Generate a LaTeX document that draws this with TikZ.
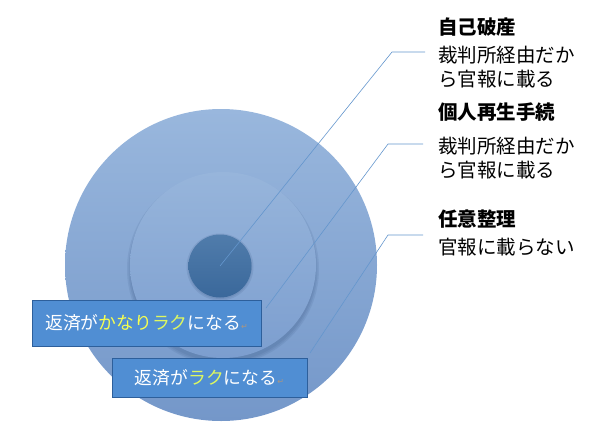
\documentclass[tikz,border=0pt]{standalone}
\usepackage{fontspec}
\newfontfamily\jp{Noto Sans CJK JP}
\newfontfamily\symf{DejaVu Sans}
\usetikzlibrary{positioning}

\definecolor{ringtop}{RGB}{153,183,221}
\definecolor{ringbot}{RGB}{116,151,201}
\definecolor{midtop}{RGB}{151,181,219}
\definecolor{midbot}{RGB}{124,158,207}
\definecolor{coretop}{RGB}{80,124,171}
\definecolor{corebot}{RGB}{58,104,155}
\definecolor{halo}{RGB}{60,90,135}
\definecolor{leadblue}{RGB}{100,150,205}
\definecolor{tagfill}{RGB}{80,142,211}
\definecolor{tagline}{RGB}{45,95,155}
\definecolor{hiyel}{RGB}{246,255,80}
\definecolor{higrn}{RGB}{222,248,96}
\definecolor{markgray}{RGB}{170,150,130}

\tikzset{
  lead/.style={draw=leadblue, line width=0.6pt},
  note/.style={anchor=west, inner sep=0pt, align=left,
    font=\jp\fontsize{19.5}{24}\selectfont},
  head/.style={note, font=\jp\bfseries\fontsize{19.5}{24}\selectfont},
  tag/.style={draw=tagline, fill=tagfill, line width=1pt, text=white,
    inner sep=0pt, font=\jp\fontsize{17.8}{20}\selectfont},
}
\newcommand\pmark{{\symf\fontsize{8}{8}\selectfont\textcolor{markgray}{↵}}}

\begin{document}
\begin{tikzpicture}[x=1pt, y=-1pt]

\useasboundingbox (0,0) rectangle (600,426); %% page size

%% circles
\node[circle, minimum size=312, shade, top color=ringtop, bottom color=ringbot]
  (outer) at (221,265) {};
\foreach \r in {93,94.5,96}
  \fill[halo, opacity=0.13] (223,269) circle (\r);
\node[circle, minimum size=186, shade, top color=midtop, bottom color=midbot]
  (middle) at (223,265) {};
\foreach \r in {32,33.5}
  \fill[halo, opacity=0.15] (220,267) circle (\r);
\node[circle, minimum size=63, shade, top color=coretop, bottom color=corebot]
  (core) at (220,266) {};

%% labels
\node[head] (t1) at (438,27) {自己破産};
\node[note] (b1) at (438,67.5) {裁判所経由だか\\ら官報に載る};
\node[head] (t2) at (438,112) {個人再生手続};
\node[note] (b2) at (438,158.5) {裁判所経由だか\\ら官報に載る};
\node[head] (t3) at (438,219) {任意整理};
\node[note] (b3) at (438,247) {官報に載らない};

%% leaders
\coordinate (e1) at (392,52);
\coordinate (a1) at (425,52);
\coordinate (f2) at (266,308);
\coordinate (e2) at (388,144);
\coordinate (a2) at (423,144);
\coordinate (f3) at (310,353);
\coordinate (e3) at (388,235);
\coordinate (a3) at (423,235);
\draw[lead] (core.center) -- (e1) -- (a1);
\draw[lead] (f2) -- (e2) -- (a2);
\draw[lead] (f3) -- (e3) -- (a3);

%% boxes
\node[tag, minimum width=229, minimum height=46] (much) at (146.5,323)
  {返済が\textcolor{hiyel}{かなり}\textcolor{higrn}{ラク}になる\pmark};
\node[tag, minimum width=195, minimum height=39] (easy) at (209.5,377.5)
  {返済が\textcolor{higrn}{ラク}になる\pmark};

\end{tikzpicture}
\end{document}
